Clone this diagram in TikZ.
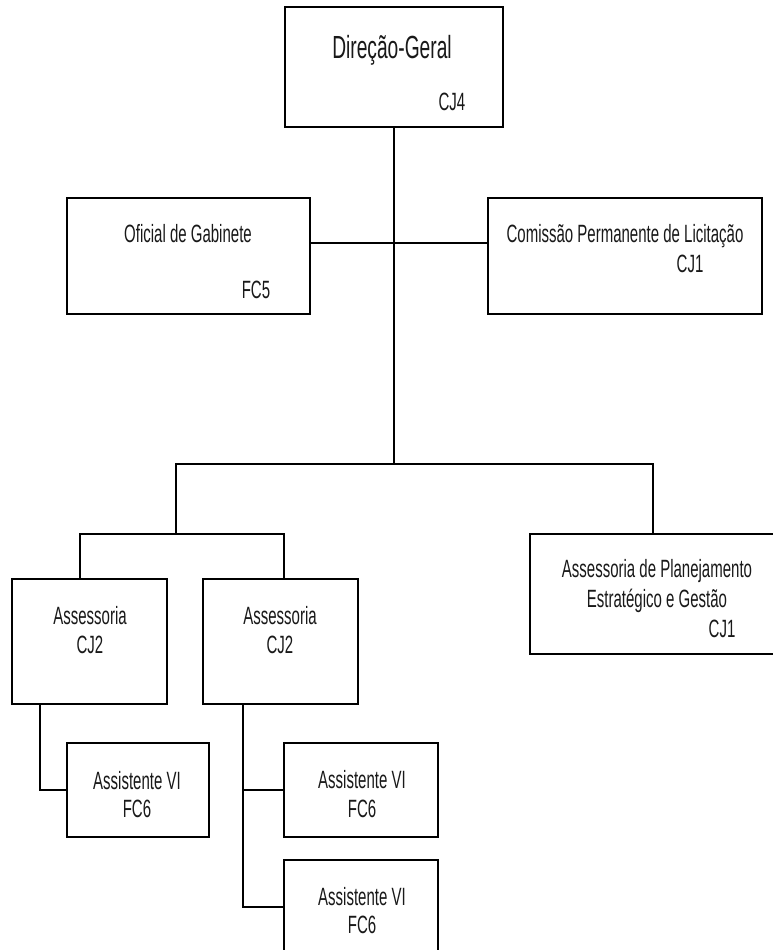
\documentclass[tikz,border=0pt]{standalone}
\usepackage{fontspec}
\setmainfont{Liberation Sans}[FakeStretch=0.6]
\begin{document}
\begin{tikzpicture}[x=1pt,y=-1pt,
  box/.style={draw=black,line width=2pt,fill=white,inner sep=0pt},
  link/.style={draw=black,line width=1.8pt,line cap=rect},
  lbl/.style={anchor=base,inner sep=0pt,font=\fontsize{25}{29}\selectfont,text=black!90},
  title/.style={lbl,font=\fontsize{32}{36}\selectfont}]
\useasboundingbox (0,0) rectangle (772,950);

% boxes (centre, width, height)
\node[box,minimum width=218pt,minimum height=120pt] (dg)   at (394,67)    {};
\node[box,minimum width=243pt,minimum height=116pt] (og)   at (188.5,256) {};
\node[box,minimum width=274pt,minimum height=116pt] (cpl)  at (625,256)   {};
\node[box,minimum width=155pt,minimum height=125pt] (as1)  at (89.5,641.5)  {};
\node[box,minimum width=155pt,minimum height=125pt] (as2)  at (280.5,641.5) {};
\node[box,minimum width=248pt,minimum height=120pt] (apeg) at (654,594)   {};
\node[box,minimum width=142pt,minimum height=94pt]  (at1)  at (138,790)   {};
\node[box,minimum width=154pt,minimum height=94pt]  (at2)  at (361,790)   {};
\node[box,minimum width=154pt,minimum height=94pt]  (at3)  at (361,907)   {};

% junction points
\coordinate (trunk) at (394,464);
\coordinate (jl) at (176,464);
\coordinate (jr) at (653,464);
\coordinate (kl) at (176,534);
\coordinate (ka) at (80,534);
\coordinate (kb) at (284,534);

% connectors
\draw[link] (dg.south) -- (trunk);
\draw[link] (og.east |- 0,243) -- (cpl.west |- 0,243);
\draw[link] (jl) -- (jr);
\draw[link] (jr) -- (jr |- apeg.north);
\draw[link] (jl) -- (kl);
\draw[link] (ka) -- (kb);
\draw[link] (ka) -- (ka |- as1.north);
\draw[link] (kb) -- (kb |- as2.north);
\draw[link] (as1.south -| 40,0) |- (at1.west);
\draw[link] (as2.south -| 243,0) |- (at3.west);
\draw[link] (243,790) -- (at2.west);

% texts
\node[title] at (392,59)  {Direção-Geral};
\node[lbl]   at (452,110) {CJ4};
\node[lbl]   at (188,242) {Oficial de Gabinete};
\node[lbl]   at (256,298) {FC5};
\node[lbl]   at (625,242) {Comissão Permanente de Licitação};
\node[lbl]   at (690,272) {CJ1};
\node[lbl]   at (90,624)  {Assessoria};
\node[lbl]   at (90,653)  {CJ2};
\node[lbl]   at (280,624) {Assessoria};
\node[lbl]   at (280,653) {CJ2};
\node[lbl]   at (657,577) {Assessoria de Planejamento};
\node[lbl]   at (657,607) {Estratégico e Gestão};
\node[lbl]   at (722,637) {CJ1};
\node[lbl]   at (137,789) {Assistente VI};
\node[lbl]   at (137,817) {FC6};
\node[lbl]   at (362,788) {Assistente VI};
\node[lbl]   at (362,817) {FC6};
\node[lbl]   at (362,905) {Assistente VI};
\node[lbl]   at (362,933) {FC6};
\end{tikzpicture}
\end{document}
